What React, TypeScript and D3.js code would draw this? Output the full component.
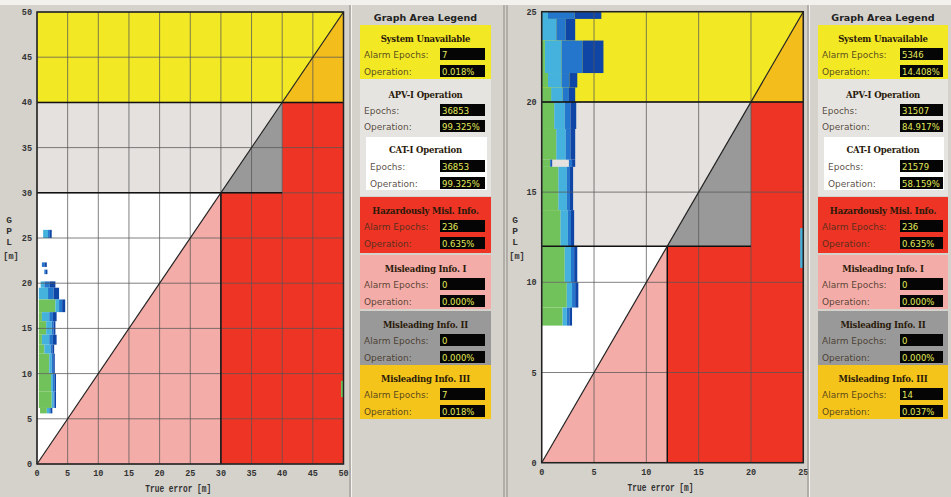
import React from "react";
import * as d3 from "d3";

// ---------- data ----------
const leftTickValues = [0, 5, 10, 15, 20, 25, 30, 35, 40, 45, 50];
const rightTickValues = [0, 5, 10, 15, 20, 25];

// thresholds: [max, alert limit APV-I, alert limit CAT-I]
const leftLimits = [50, 40, 30];
const rightLimits = [25, 20, 12];

// density rows: [yLow, yHigh, xStart, greenEnd, cyanEnd, blueEnd]
const leftDensity = [
  [25.0, 25.9, 1.0, 1.0, 1.8, 2.4],
  [21.8, 22.3, 0.8, 0.8, 0.8, 1.6],
  [21.0, 21.5, 1.2, 1.2, 1.2, 1.7],
  [19.5, 20.2, 0.6, 0.6, 1.2, 3.0],
  [18.2, 19.5, 0.3, 0.3, 1.8, 3.6],
  [16.8, 18.2, 0.3, 3.0, 3.6, 4.6],
  [15.8, 16.8, 0.3, 0.8, 2.0, 3.2],
  [14.3, 15.8, 0.3, 1.5, 2.4, 3.0],
  [13.2, 14.3, 0.3, 0.8, 2.0, 3.2],
  [12.2, 13.2, 0.3, 1.2, 2.2, 2.8],
  [10.0, 12.2, 0.3, 2.0, 2.4, 2.9],
  [8.0, 10.0, 0.3, 2.3, 2.6, 3.1],
  [6.2, 8.0, 0.3, 2.4, 2.7, 3.1],
  [5.6, 6.2, 0.5, 1.6, 2.0, 2.5],
  [7.4, 9.2, 49.6, 50, 50, 50],
];
const rightDensity = [
  [24.6, 25.0, 0, 0, 0.6, 5.7],
  [23.4, 24.6, 0, 0, 1.4, 3.2],
  [21.6, 23.4, 0, 0.3, 1.9, 5.9],
  [20.8, 21.6, 0, 0.6, 1.9, 3.4],
  [20.0, 20.8, 0, 0.9, 2.0, 3.2],
  [18.5, 20.0, 0, 1.2, 2.2, 3.3],
  [16.8, 18.5, 0, 1.4, 2.3, 3.2],
  [16.4, 16.8, 0, 0.8, 0.8, 1.0],
  [16.4, 16.8, 2.6, 2.6, 2.6, 3.2],
  [14.0, 16.4, 0, 1.6, 2.4, 3.0],
  [12.0, 14.0, 0, 1.8, 2.5, 3.1],
  [10.0, 12.0, 0, 2.2, 2.8, 3.4],
  [8.6, 10.0, 0, 2.4, 2.9, 3.5],
  [7.6, 8.6, 0, 2.0, 2.4, 2.9],
  [10.8, 13.0, 24.7, 24.7, 25, 25],
];

const legendTitles = [
  "System Unavailable",
  "APV-I Operation",
  "CAT-I Operation",
  "Hazardously Misl. Info.",
  "Misleading Info. I",
  "Misleading Info. II",
  "Misleading Info. III",
];
const leftLegendValues = [
  ["7", "0.018%"],
  ["36853", "99.325%"],
  ["36853", "99.325%"],
  ["236", "0.635%"],
  ["0", "0.000%"],
  ["0", "0.000%"],
  ["7", "0.018%"],
];
const rightLegendValues = [
  ["5346", "14.408%"],
  ["31507", "84.917%"],
  ["21579", "58.159%"],
  ["236", "0.635%"],
  ["0", "0.000%"],
  ["0", "0.000%"],
  ["14", "0.037%"],
];

// ---------- styles ----------
const C = {
  bg: "#d5d2cc",
  yellow: "#f2e824",
  orange: "#f3bd1c",
  lightGray: "#e4e1de",
  gray: "#999999",
  red: "#ee3424",
  pink: "#f3aca7",
  white: "#ffffff",
  grid: "#555",
  green: "#72c25c",
  cyan: "#44b2dc",
  blue: "#2476cc",
  darkBlue: "#0f46a6",
};
const monoFont = "'Liberation Mono', 'DejaVu Sans Mono', monospace";
const sansFont = "'DejaVu Sans', Verdana, sans-serif";
const serifFont = "'DejaVu Serif', Georgia, serif";

type PlotProps = {
  px0: number; px1: number; py0: number; py1: number;
  limits: number[]; ticks: number[]; density: number[][];
  yLabelX: number; xTitleLen: number;
};

function Plot({ px0, px1, py0, py1, limits, ticks, density, yLabelX, xTitleLen }: PlotProps) {
  const [max, val, cat] = limits;
  const x = d3.scaleLinear().domain([0, max]).range([px0, px1]);
  const y = d3.scaleLinear().domain([0, max]).range([py0, py1]);
  const poly = (pts: number[][]) => pts.map(([a, b]) => `${x(a)},${y(b)}`).join(" ");
  const regions: [number[][], string][] = [
    [[[0, val], [val, val], [max, max], [0, max]], C.yellow],
    [[[val, val], [max, max], [max, val]], C.orange],
    [[[0, cat], [cat, cat], [val, val], [0, val]], C.lightGray],
    [[[cat, cat], [val, val], [val, cat]], C.gray],
    [[[cat, 0], [max, 0], [max, val], [val, val], [val, cat], [cat, cat]], C.red],
    [[[0, 0], [cat, cat], [0, cat]], C.white],
    [[[0, 0], [cat, 0], [cat, cat]], C.pink],
  ];
  const cells: JSX.Element[] = [];
  density.forEach((r, i) => {
    const [ylo, yhi, xs, g, c, b] = r;
    const yTop = y(yhi), h = y(ylo) - y(yhi);
    const half = c + (b - c) / 2;
    const bands: [number, number, string][] = [
      [xs, g, C.green],
      [g, c, C.cyan],
      [c, half, C.blue],
      [half, b, C.darkBlue],
    ];
    bands.forEach(([a, e, col], j) => {
      if (e > a) cells.push(
        <rect key={`${i}-${j}`} x={x(a)} y={yTop} width={x(e) - x(a)} height={h} fill={col} />
      );
    });
  });
  return (
    <g>
      {regions.map(([p, col], i) => <polygon key={i} points={poly(p)} fill={col} />)}
      {cells}
      {ticks.map((t) => (
        <g key={t}>
          <line x1={x(t)} x2={x(t)} y1={y(0)} y2={y(max)} stroke={C.grid} strokeOpacity={0.75} strokeWidth={1} />
          <line x1={x(0)} x2={x(max)} y1={y(t)} y2={y(t)} stroke={C.grid} strokeOpacity={0.75} strokeWidth={1} />
        </g>
      ))}
      <line x1={x(0)} y1={y(val)} x2={x(max)} y2={y(val)} stroke="#111" strokeWidth={1.5} />
      <line x1={x(0)} y1={y(cat)} x2={x(val)} y2={y(cat)} stroke="#111" strokeWidth={1.5} />
      <line x1={x(cat)} y1={y(0)} x2={x(cat)} y2={y(cat)} stroke="#111" strokeWidth={1.5} />
      <line x1={x(0)} y1={y(0)} x2={x(max)} y2={y(max)} stroke="#222" strokeWidth={1.2} />
      <rect x={x(0)} y={y(max)} width={x(max) - x(0)} height={y(0) - y(max)} fill="none" stroke="#222" strokeWidth={1.5} />
      {ticks.map((t) => (
        <text key={"xt" + t} x={x(t)} y={py0 + 12} textAnchor="middle" fontFamily={monoFont} fontWeight="bold" fontSize={8.5} fill="#333">{t}</text>
      ))}
      {ticks.map((t) => (
        <text key={"yt" + t} x={px0 - 5} y={y(t) + 3} textAnchor="end" fontFamily={monoFont} fontWeight="bold" fontSize={8.5} fill="#333">{t}</text>
      ))}
      <text x={(px0 + px1) / 2 - 12} y={py0 + 28} textAnchor="middle" fontFamily={monoFont} fontWeight="bold" fontSize={10} fill="#333" textLength={xTitleLen} lengthAdjust="spacingAndGlyphs">True error [m]</text>
      {["G", "P", "L"].map((ch, i) => (
        <text key={ch} x={yLabelX} y={223 + i * 11} textAnchor="middle" fontFamily={monoFont} fontWeight="bold" fontSize={9.5} fill="#333">{ch}</text>
      ))}
      <text x={yLabelX + 2} y={259} textAnchor="middle" fontFamily={monoFont} fontWeight="bold" fontSize={8.5} fill="#333">[m]</text>
    </g>
  );
}

type LegendProps = { bx: number; bw: number; vx: number; vw: number; values: string[][]; frameX: number };

function Legend({ bx, bw, vx, vw, values, frameX }: LegendProps) {
  const cx = bx + bw / 2;
  const labelColor = "#3b2e1c";
  const row = (label: string, value: string, ty: number, lx: number, key: string) => (
    <g key={key}>
      <text x={lx} y={ty + 3.5} fontFamily={sansFont} fontSize={9} fill={labelColor} fillOpacity={0.85}>{label}</text>
      <rect x={vx} y={ty - 6} width={vw} height={12} fill="#050505" />
      <text x={vx + 2} y={ty + 3.5} fontFamily={sansFont} fontSize={8.5} fill="#e3ea5a">{value}</text>
    </g>
  );
  const title = (t: string, ty: number, key: string, col = "#2a1a0a") => (
    <text key={key} x={cx} y={ty + 3.5} textAnchor="middle" fontFamily={serifFont} fontWeight="bold" fontSize={8.5} letterSpacing={-0.2} fill={col}>{t}</text>
  );
  const small: [number, number, string][] = [
    [0, 25, C.yellow],
    [3, 197, C.red],
    [4, 255, C.pink],
    [5, 311, C.gray],
    [6, 365, "#f5c41a"],
  ];
  return (
    <g>
      <line x1={frameX} x2={frameX} y1={5} y2={497} stroke="#8d8a85" strokeWidth={1} />
      <line x1={frameX + 1.5} x2={frameX + 1.5} y1={5} y2={497} stroke="#f4f3f0" strokeWidth={1} />
      <text x={cx} y={21} textAnchor="middle" fontFamily={sansFont} fontWeight="bold" fontSize={9.5} fill="#222">Graph Area Legend</text>
      <rect x={bx} y={79} width={bw} height={117} fill="#e6e4e1" />
      <rect x={bx + 6} y={137} width={bw - 10} height={53} fill="#fff" />
      {small.map(([i, top, col]) => (
        <g key={"b" + i}>
          <rect x={bx} y={top} width={bw} height={i === 3 ? 56 : 54} fill={col} />
          {title(legendTitles[i], top + 13, "t" + i)}
          {row("Alarm Epochs:", values[i][0], top + 29, bx + 4, "a" + i)}
          {row("Operation:", values[i][1], top + 46, bx + 4, "o" + i)}
        </g>
      ))}
      {title(legendTitles[1], 94, "t1")}
      {row("Epochs:", values[1][0], 110, bx + 4, "a1")}
      {row("Operation:", values[1][1], 126, bx + 4, "o1")}
      {title(legendTitles[2], 149, "t2")}
      {row("Epochs:", values[2][0], 166, bx + 10, "a2")}
      {row("Operation:", values[2][1], 183, bx + 10, "o2")}
    </g>
  );
}

export default function App() {
  return (
    <svg width={951} height={497} style={{ position: "absolute", left: 0, top: 0, background: C.bg }}>
      <rect x={0} y={0} width={951} height={5} fill="#f2f1ee" />
      <line x1={504} x2={504} y1={5} y2={497} stroke="#8d8a85" />
      <line x1={507} x2={507} y1={5} y2={497} stroke="#8d8a85" />
      <Plot px0={37} px1={343.5} py0={464} py1={12} limits={leftLimits} ticks={leftTickValues} density={leftDensity} yLabelX={9} xTitleLen={66} />
      <Plot px0={541.7} px1={803.3} py0={462.7} py1={11.7} limits={rightLimits} ticks={rightTickValues} density={rightDensity} yLabelX={515} xTitleLen={66} />
      <Legend frameX={350} bx={360} bw={131} vx={440} vw={45} values={leftLegendValues} />
      <Legend frameX={808} bx={818} bw={130} vx={900} vw={43} values={rightLegendValues} />
    </svg>
  );
}
